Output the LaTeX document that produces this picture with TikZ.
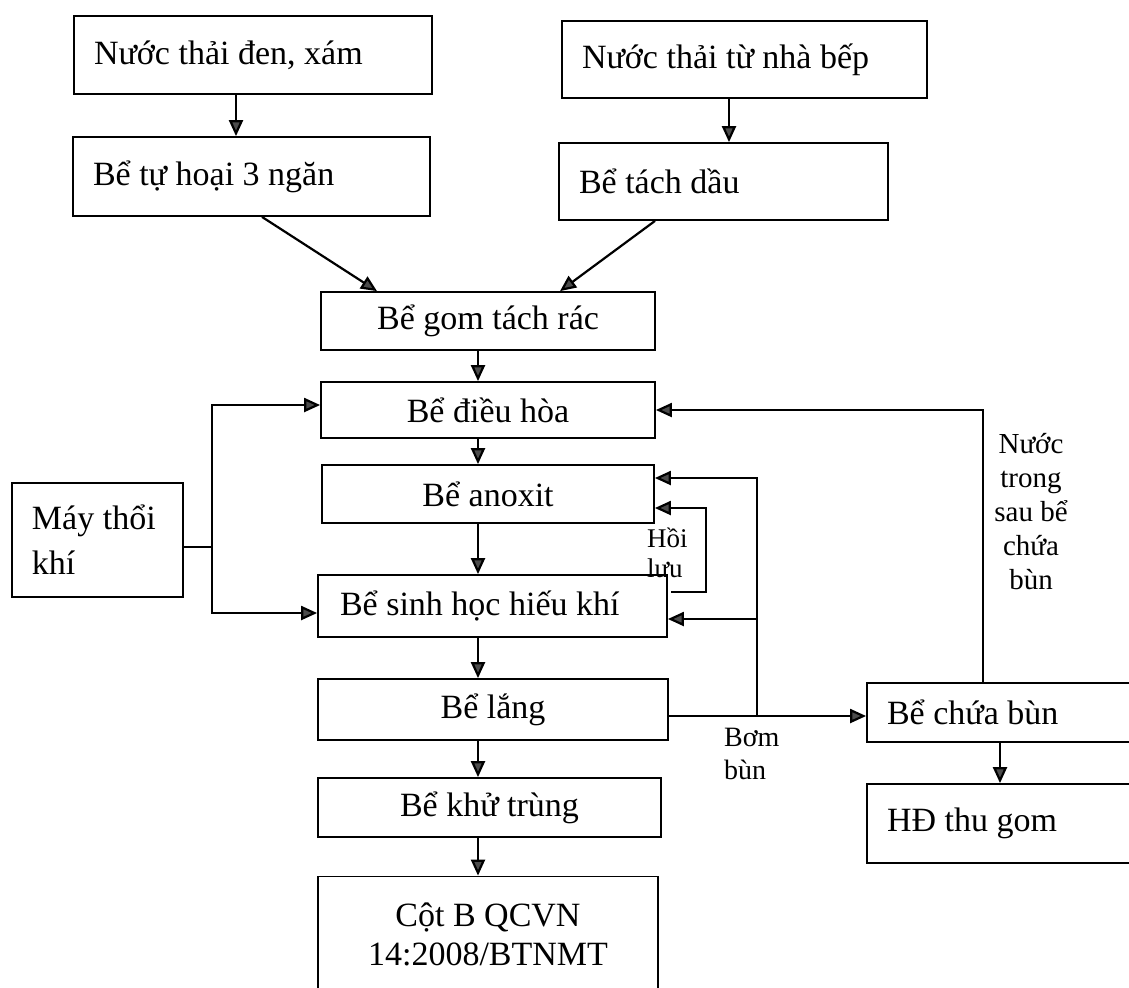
\documentclass[tikz,border=0pt]{standalone}
\usepackage{fontspec}
\setmainfont{Liberation Serif}
\usetikzlibrary{arrows.meta}

\begin{document}
\begin{tikzpicture}[x=0.5pt,y=-0.5pt,line width=1.1pt,>={Triangle[length=8pt,width=7pt,fill=black!70]},
  box/.style={draw,line width=.9pt,font=\fontsize{17}{20}\selectfont,inner sep=0pt,align=center},
  lbox/.style={box,align=flush left,inner xsep=10pt,text width=#1},
  lbl/.style={font=\fontsize{14}{16.5}\selectfont,inner sep=0pt}]
      \useasboundingbox (0,0) rectangle (1129,987);
      \clip (0,0) rectangle (1129,987);
      % boxes
      \node[lbox=159pt,minimum height=39pt] (q_den) at (253,55) {Nước thải đen, xám};
      \node[lbox=162.5pt,minimum height=38.5pt] (q_bep) at (744.5,59.5) {Nước thải từ nhà bếp};
      \node[lbox=158.5pt,minimum height=39.5pt] (q_th) at (251.5,176.5) {Bể tự hoại 3 ngăn};
      \node[lbox=144.5pt,minimum height=38.5pt] (q_td) at (723.5,181.5) {Bể tách dầu};
      \node[box,minimum width=167pt,minimum height=29pt] (q_gom) at (488,321) {Bể gom tách rác};
      \node[box,minimum width=167pt,minimum height=28pt] (q_dh) at (488,410) {Bể điều hòa};
      \node[box,minimum width=166pt,minimum height=29pt] (q_ax) at (488,494) {Bể anoxit};
      \node[lbox=65.5pt,minimum height=57pt,font=\fontsize{17}{22.5}\selectfont] (q_mtk) at (97.5,540) {Máy thổi\\khí};
      \node[lbox=152.5pt,inner xsep=11pt,minimum height=31pt] (q_hk) at (492.5,606) {Bể sinh học hiếu khí};
      \node[box,minimum width=175pt,minimum height=30.5pt] (q_lang) at (493,709.5) {Bể lắng};
      \node[box,minimum width=171.5pt,minimum height=29.5pt] (q_kt) at (489.5,807.5) {Bể khử trùng};
      \node[box,minimum width=170pt,minimum height=57.5pt,font=\fontsize{17}{19.5}\selectfont] (q_qc) at (488,934) {Cột B QCVN\\14:2008/BTNMT};
      \node[lbox=116.5pt,minimum height=29.5pt] (q_cb) at (1003.5,712.5) {Bể chứa bùn};
      \node[lbox=116.5pt,minimum height=39.5pt] (q_tg) at (1003.5,823.5) {HĐ thu gom};
      % labels
      \node[lbl,font=\fontsize{13.5}{15}\selectfont,align=left,anchor=west] (l_hl) at (646,553) {Hồi\\lưu};
      \node[lbl,align=left,anchor=west] (l_bb) at (723,754) {Bơm\\bùn};
      \node[lbl,align=center,font=\fontsize{14.5}{17}\selectfont] (l_nt) at (1031,512) {Nước\\trong\\sau bể\\chứa\\bùn};
      % helper points
      \coordinate (x_l) at (236,0);
      \coordinate (x_r) at (729,0);
      \coordinate (x_m) at (478,0);
      \coordinate (x_cb) at (1000,0);
      \coordinate (d_1) at (262,0);
      \coordinate (d_2) at (377,0);
      \coordinate (d_3) at (655,0);
      \coordinate (d_4) at (560,0);
      \coordinate (bl) at (212,547);
      \coordinate (bl_1) at (0,405);
      \coordinate (bl_2) at (0,613);
      \coordinate (pump) at (757,716);
      \coordinate (pm_1) at (0,478);
      \coordinate (pm_2) at (0,619);
      \coordinate (hl_s) at (671,592);
      \coordinate (hl) at (706,508);
      \coordinate (ret) at (983,410);
      % flow
      \draw[->] (q_den.south -| x_l) -- (q_th.north -| x_l);
      \draw[->] (q_bep.south -| x_r) -- (q_td.north -| x_r);
      \draw[->] (q_th.south -| d_1) -- (q_gom.north -| d_2);
      \draw[->] (q_td.south -| d_3) -- (q_gom.north -| d_4);
      \foreach \a/\b in {q_gom/q_dh,q_dh/q_ax,q_ax/q_hk,q_hk/q_lang,q_lang/q_kt,q_kt/q_qc}
        \draw[->] (\a.south -| x_m) -- (\b.north -| x_m);
      % air
      \draw (q_mtk.east |- bl) -- (bl);
      \draw[->] (bl) |- (q_dh.west |- bl_1);
      \draw[->] (bl) |- (q_hk.west |- bl_2);
      % sludge
      \draw[->] (q_lang.east |- pump) -- (q_cb.west |- pump);
      \draw[->] (pump) |- (q_ax.east |- pm_1);
      \draw[->] (pump |- pm_2) -- (q_hk.east |- pm_2);
      \draw[->] (hl_s) -| (hl) -- (q_ax.east |- hl);
      \draw[->] (q_cb.north -| ret) |- (q_dh.east);
      \draw[->] (q_cb.south -| x_cb) -- (q_tg.north -| x_cb);
\end{tikzpicture}
\end{document}
